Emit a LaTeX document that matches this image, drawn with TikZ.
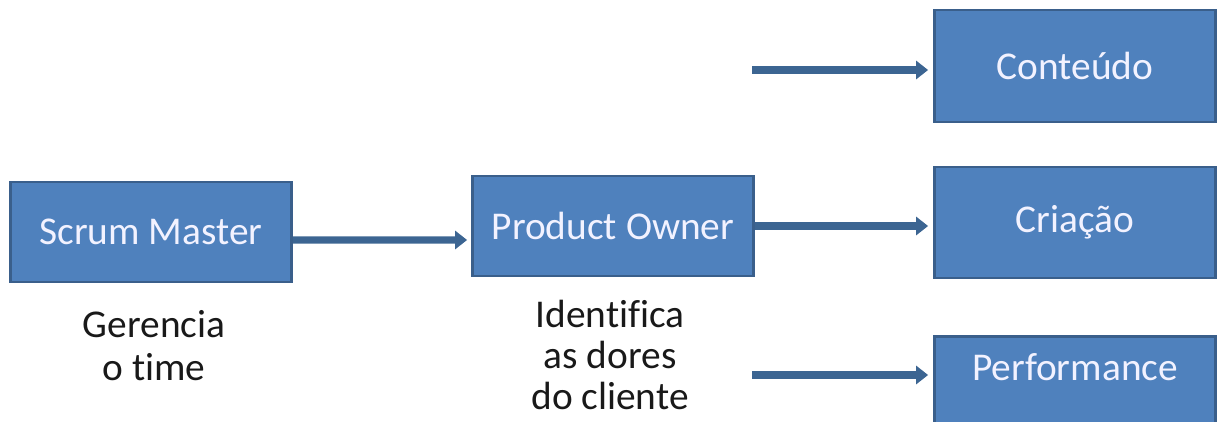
\documentclass[tikz,border=0pt]{standalone}
\usepackage{fontspec}
\setmainfont[Ligatures=NoCommon]{Carlito}
\usetikzlibrary{positioning, arrows.meta}
\definecolor{boxblue}{HTML}{4F81BD}
\definecolor{boxline}{HTML}{3A5F8B}
\definecolor{arrowblue}{HTML}{3C6592}
\begin{document}
\begin{tikzpicture}[node distance=2cm,on grid,
   role/.style={rectangle,draw=boxline,line width=1.6pt,fill=boxblue,text=white!95!blue,
     minimum width=5.62cm,minimum height=2cm,inner sep=1pt,font=\fontsize{22.4}{24.4}\selectfont},
   note/.style={align=center,inner sep=0pt,text=black!90,font=\fontsize{22.4}{24.4}\selectfont},
   flow/.style={draw=arrowblue,line width=4pt,-{Triangle[length=0.24cm,width=0.36cm]}}]

   \clip (0,0) rectangle (24.34,8.42);

   \node[role] (sm) at (3.02,3.78) {Scrum Master};
   \node[role] (po) [above right=0.12cm and 9.24cm of sm] {Product Owner};
   \node[role,minimum height=2.22cm] (cri) [above right=0.07cm and 9.24cm of po] {Criação};
   \node[role,minimum height=2.24cm] (cont) [above=3.13cm of cri] {Conteúdo};
   \node[role,minimum height=0cm,text height=0.84cm,text depth=1.2cm] (perf) [below=3.34cm of cri] {Performance};

   \node[note] (gt) [below right=2.27cm and 0.06cm of sm] {Gerencia\\o time};
   \node[note] (dc) [below left=2.58cm and 0.06cm of po] {Identifica\\[-0.04cm]as dores\\[-0.04cm]do cliente};

   \coordinate (inA) at (15.04,7.02);
   \coordinate (inB) at (15.04,0.92);

   \draw[flow] ([yshift=-0.16cm]sm.east) -- ([yshift=-0.28cm,xshift=-0.08cm]po.west);
   \draw[flow] (po.east) -- ([xshift=-0.1cm]po.east -| cri.west);
   \draw[flow] (inA) -- ([xshift=-0.1cm]inA -| cont.west);
   \draw[flow] (inB) -- ([xshift=-0.1cm]inB -| perf.west);

\end{tikzpicture}
\end{document}
